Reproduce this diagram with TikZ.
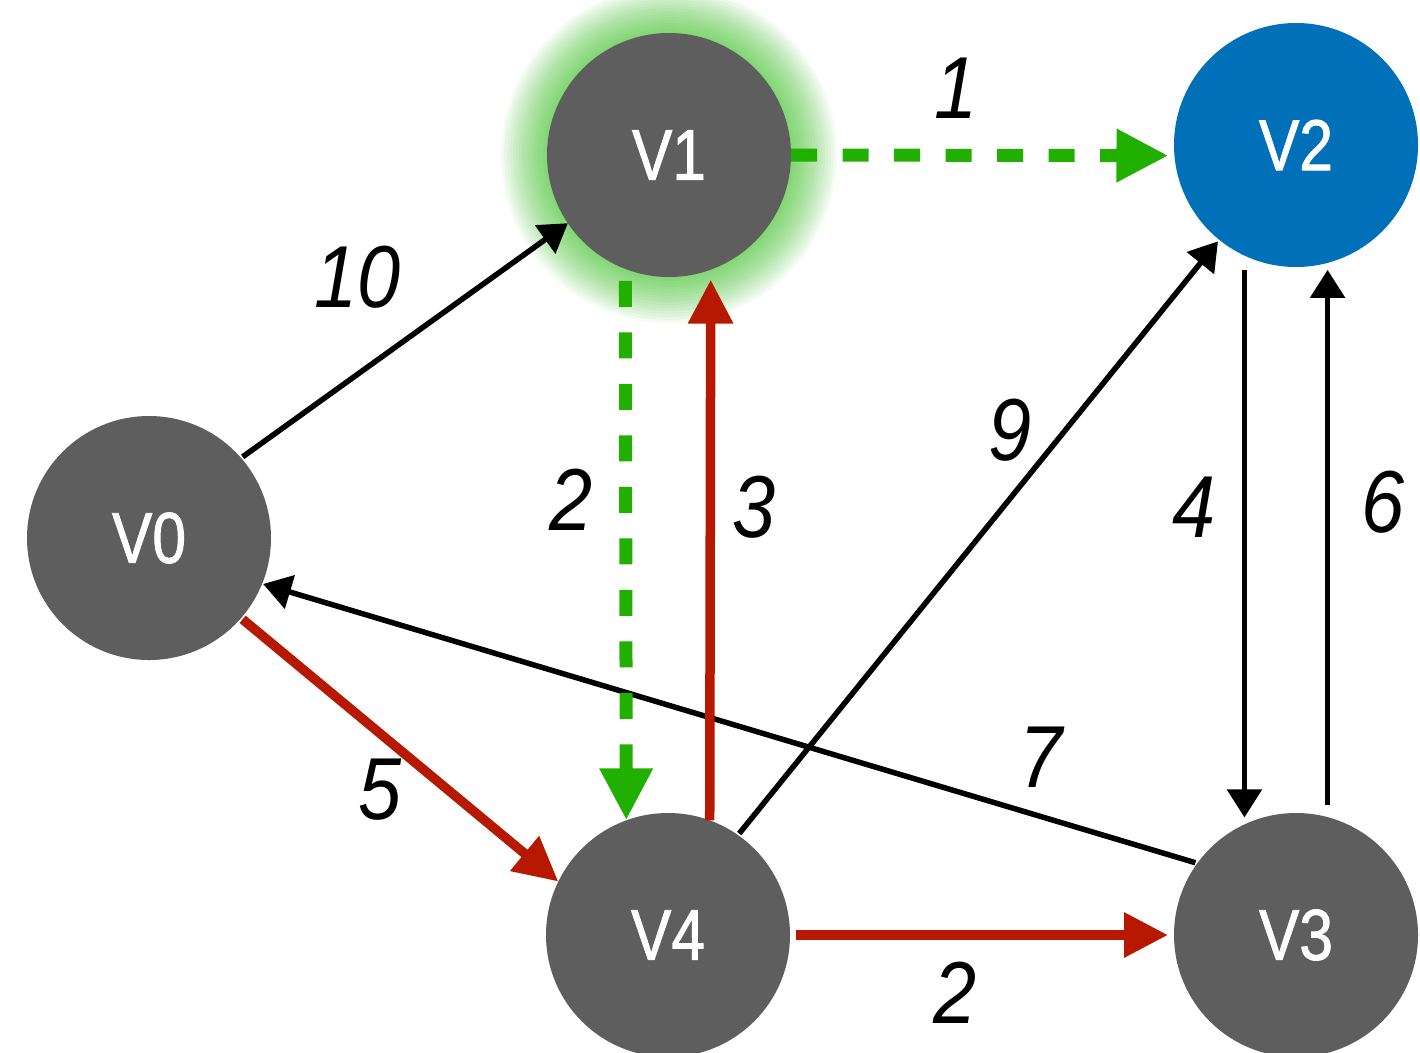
\documentclass[tikz,border=0pt]{standalone}
\usepackage{fontspec}
\setmainfont{Liberation Sans}
\newfontfamily\nodefont{Liberation Sans}[FakeStretch=0.84,FakeBold=1.2]
\newfontfamily\lblfont{Liberation Sans}[FakeStretch=0.88]
\usetikzlibrary{arrows.meta,backgrounds}
\definecolor{nodegray}{HTML}{5E5E5E}
\definecolor{nodeblue}{HTML}{0071B8}
\definecolor{edgegreen}{HTML}{22B000}
\definecolor{edgered}{HTML}{B71800}
\definecolor{glowgreen}{HTML}{2EC014}
\begin{document}
\begin{tikzpicture}[x=1pt,y=-1pt,
  vertex/.style={circle,fill=nodegray,minimum size=244pt,inner sep=0pt,outer sep=0pt,
    text=white,font=\nodefont\fontsize{72}{72}\selectfont},
  wlabel/.style={inner sep=0pt,font=\lblfont\itshape\fontsize{88}{88}\selectfont},
  blkarr/.style={draw=black,line width=5.5pt,-{Triangle[length=28pt,width=34pt]}},
  redarr/.style={draw=edgered,line width=9.5pt,-{Triangle[length=44pt,width=43pt]}},
  greenarr/.style={draw=edgegreen,line width=13pt,dash pattern=on 26pt off 25.5pt,
    -{Triangle[length=52pt,width=50pt]}},
]
\useasboundingbox (0,0) rectangle (1420,1052);

% vertices
\node[vertex] (V0) at (149,538) {V0};
\node[vertex] (V1) at (669,155) {V1};
\node[vertex,fill=nodeblue] (V2) at (1296,145) {V2};
\node[vertex] (V4) at (668,935) {V4};
\node[vertex] (V3) at (1296,935) {V3};

% background and glow around V1
\begin{scope}[on background layer]
  \fill[white] (0,0) rectangle (1420,1052);
  \foreach \r in {123,126,...,168}
    \fill[glowgreen,opacity=0.05] (V1.center) circle[radius=\r pt];
\end{scope}

% edges
\draw[blkarr,shorten <=2pt] (V0.41) -- (V1.214);
\draw[blkarr,shorten <=2pt,shorten >=2pt] (V4.55) -- (V2.231);
\draw[blkarr,shorten <=2pt,shorten >=1pt] (V3.144) -- (V0.338);
\draw[blkarr,shorten <=14pt,shorten >=7pt] (V2.245) -- (V3.115);
\draw[blkarr,shorten <=12pt,shorten >=7pt] (V3.75) -- (V2.285);

\draw[redarr,shorten <=2pt] (V0.319) -- (V4.154);
\draw[redarr,shorten <=6pt,shorten >=6pt] (V4.east) -- (V3.west);
\draw[redarr,shorten >=10pt] (V4.70) -- (V1.290);

\draw[greenarr,shorten >=6pt] (V1.east) -- (V2.185);
\draw[greenarr,shorten <=12pt] (V1.249) -- (V4.110);

% weights
\node[wlabel] (w01) at (358,277) {10};
\node[wlabel] (w12) at (956,88) {1};
\node[wlabel] (w14) at (571,500) {2};
\node[wlabel] (w41) at (754,507) {3};
\node[wlabel] (w42) at (1010,430) {9};
\node[wlabel] (w23) at (1194,507) {4};
\node[wlabel] (w32) at (1383,502) {6};
\node[wlabel] (w30) at (1041,757) {7};
\node[wlabel] (w04) at (380,790) {5};
\node[wlabel] (w43) at (955,993) {2};
\end{tikzpicture}
\end{document}
